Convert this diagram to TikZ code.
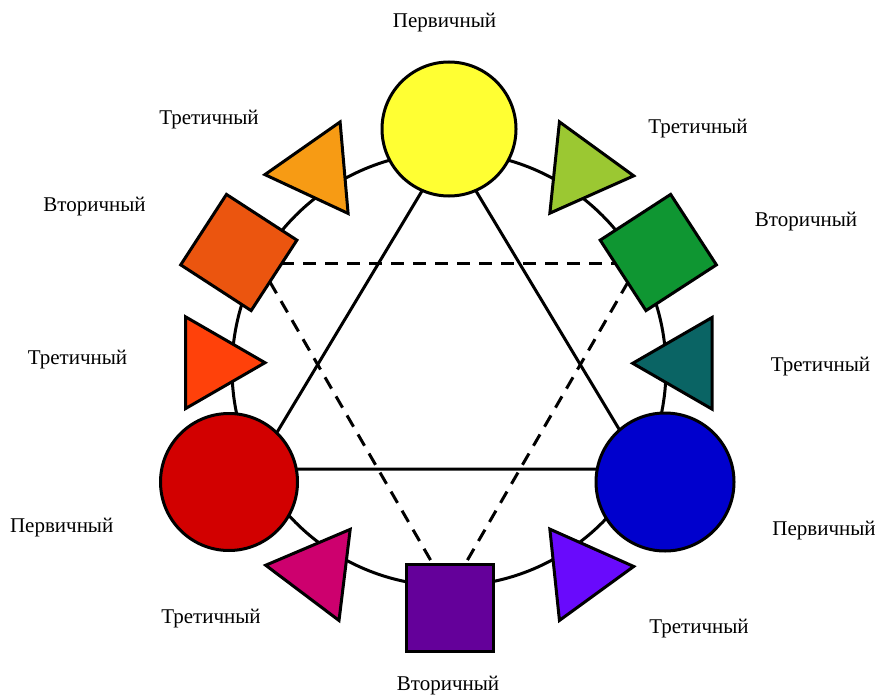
\documentclass[tikz,border=0pt]{standalone}
\usepackage{fontspec}
\setmainfont{Liberation Serif}
\usetikzlibrary{shapes.geometric}
\definecolor{cYellow}{RGB}{255,255,51}
\definecolor{cOrange}{RGB}{247,155,20}
\definecolor{cOrRed}{RGB}{235,85,15}
\definecolor{cRedOr}{RGB}{255,65,10}
\definecolor{cRed}{RGB}{210,0,0}
\definecolor{cMagenta}{RGB}{205,0,110}
\definecolor{cPurple}{RGB}{100,0,154}
\definecolor{cViolet}{RGB}{105,10,252}
\definecolor{cBlue}{RGB}{0,0,205}
\definecolor{cTeal}{RGB}{10,100,100}
\definecolor{cGreen}{RGB}{15,150,50}
\definecolor{cYGreen}{RGB}{155,200,50}
\tikzset{
  edgeline/.style={line width=3pt, draw=black},
  primcirc/.style={circle, draw=black, line width=3pt, inner sep=0pt, fill=#1},
  secbox/.style={rectangle, draw=black, line width=3pt, inner sep=0pt, minimum width=84pt, minimum height=84pt, fill=#1},
  tertri/.style={regular polygon, regular polygon sides=3, draw=black, line width=3pt, inner sep=0pt, minimum size=106pt, fill=#1},
  lbl/.style={inner sep=0pt, anchor=base, font=\fontsize{21}{24}\selectfont}
}
\begin{document}
\begin{tikzpicture}[x=1pt,y=-1pt]
\useasboundingbox[fill=white] (0,0) rectangle (880,695);
% ring
\node[circle, draw=black, line width=3pt, minimum size=434pt, inner sep=0pt] (ring) at (449,369) {};
% solid triangle (primary)
\coordinate (pA) at (449,146);
\coordinate (pL) at (255,469);
\coordinate (pR) at (643,469);
\draw[edgeline] (pA) -- (pL) -- (pR) -- cycle;
% dashed triangle (secondary)
\coordinate (sL) at (259,263);
\coordinate (sR) at (639,263);
\coordinate (sB) at (449,592);
\draw[edgeline, dash pattern=on 13pt off 9pt] (sL) -- (sR);
\draw[edgeline, dash pattern=on 13pt off 9pt] (sL) -- (sB);
\draw[edgeline, dash pattern=on 13pt off 9pt] (sR) -- (sB);
% primary circles
\node[primcirc=cYellow, minimum size=134pt] (Y) at (449,129) {};
\node[primcirc=cRed, minimum size=137pt] (R) at (229,482) {};
\node[primcirc=cBlue, minimum size=138pt] (B) at (665,482) {};
% secondary squares
\node[secbox=cOrRed, rotate=-33] (O) at (238.8,252.5) {};
\node[secbox=cGreen, rotate=33] (G) at (658.3,252.5) {};
\node[secbox=cPurple, minimum width=87pt, minimum height=87pt] (P) at (450,607.5) {};
% tertiary triangles
\node[tertri=cOrange, rotate=95] (T1) at (317.7,170) {};
\node[tertri=cRedOr, rotate=-90] (T2) at (212,362.7) {};
\node[tertri=cMagenta, rotate=83] (T3) at (318.3,571.7) {};
\node[tertri=cViolet, rotate=-84] (T4) at (581,572) {};
\node[tertri=cTeal, rotate=90] (T5) at (685.7,363.3) {};
\node[tertri=cYGreen, rotate=-96] (T6) at (581,170.3) {};
% labels
\node[lbl] (l1) at (444.5,27.3) {Первичный};
\node[lbl] (l2) at (209,125) {Третичный};
\node[lbl] (l3) at (698,133.3) {Третичный};
\node[lbl] (l4) at (94.5,211.7) {Вторичный};
\node[lbl] (l5) at (806,226) {Вторичный};
\node[lbl] (l6) at (77.5,364) {Третичный};
\node[lbl] (l7) at (820.5,371.7) {Третичный};
\node[lbl] (l8) at (61.7,532.7) {Первичный};
\node[lbl] (l9) at (824,535) {Первичный};
\node[lbl] (l10) at (211,623.3) {Третичный};
\node[lbl] (l11) at (699,633.3) {Третичный};
\node[lbl] (l12) at (448,690) {Вторичный};
\end{tikzpicture}
\end{document}
